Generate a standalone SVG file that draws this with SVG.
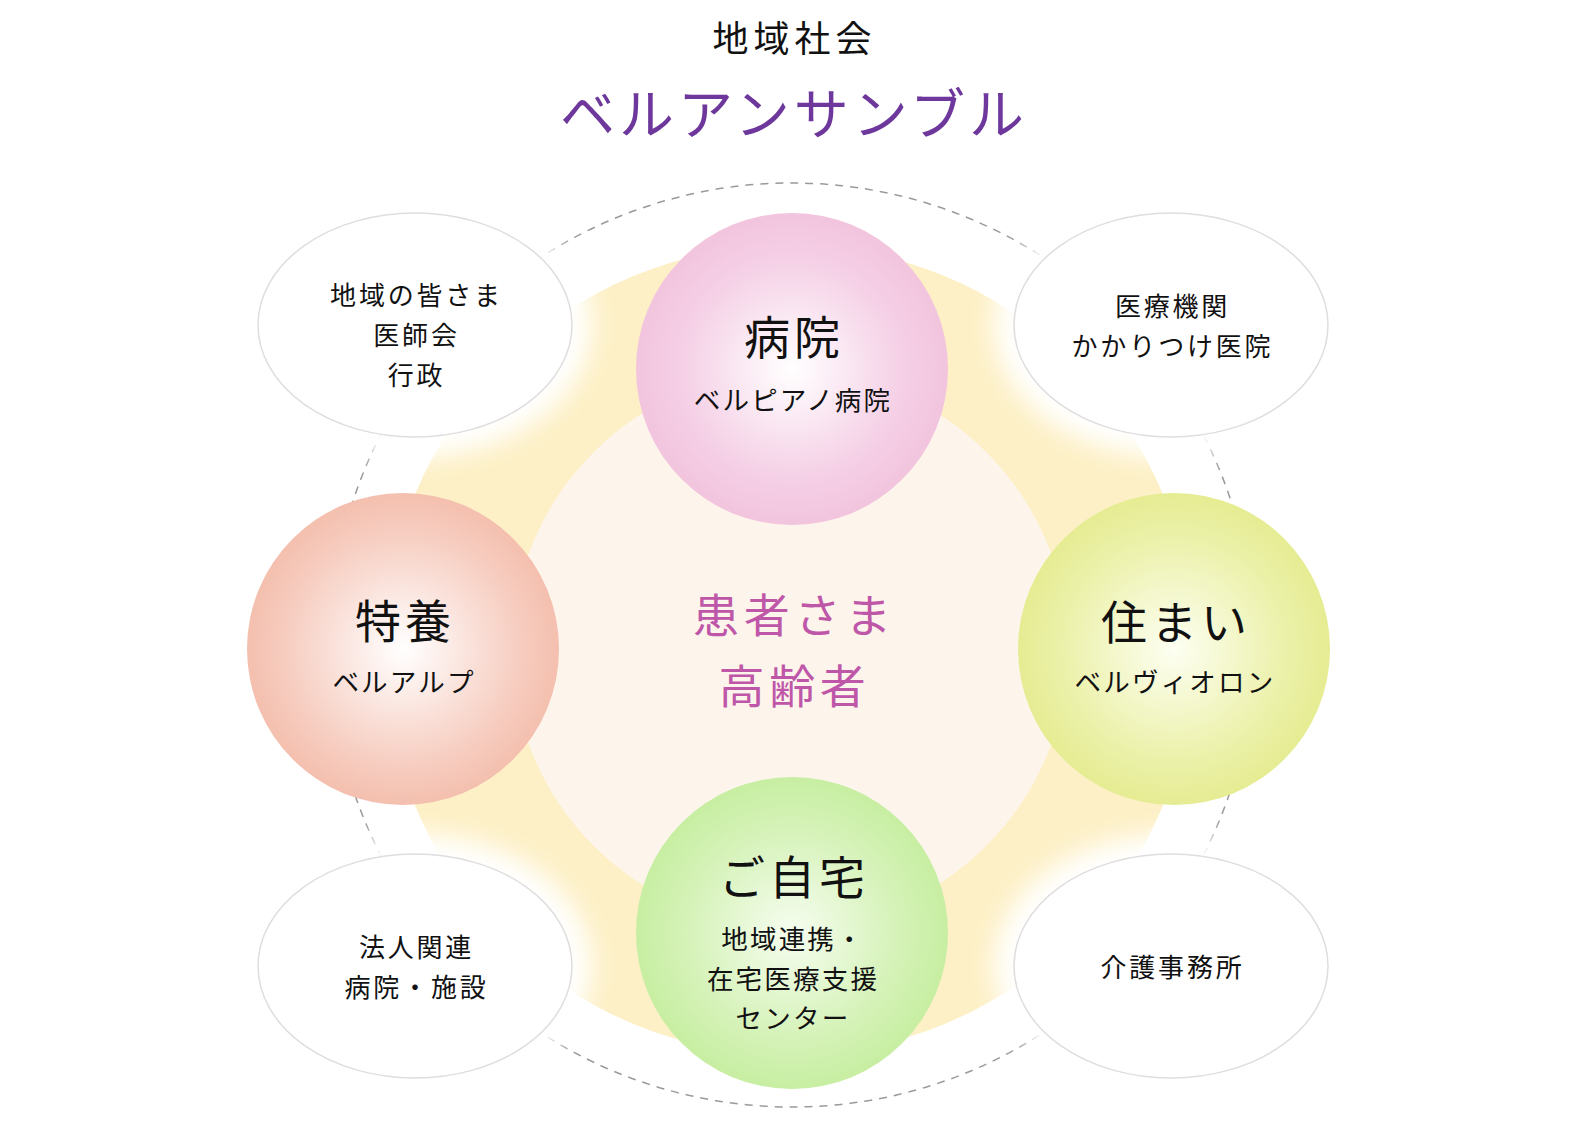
<svg xmlns="http://www.w3.org/2000/svg" width="1584" height="1131" viewBox="0 0 1584 1131">
<defs>
<style>
text{font-family:"Noto Sans CJK JP","Noto Sans",sans-serif;text-anchor:middle;fill:#111;}
.t1{font-size:36px;letter-spacing:5px;}
.t2{font-size:55px;letter-spacing:4px;fill:#6d379c;}
.big{font-size:46px;letter-spacing:4px;}
.sub{font-size:26.5px;letter-spacing:2.2px;}
.ell{font-size:26px;letter-spacing:2.8px;}
.ctr{font-size:46px;letter-spacing:4.7px;fill:#bf57a9;}
.oval{fill:#fff;stroke:#dedede;stroke-width:1.5;}
.glow{fill:#fff;filter:url(#blur);}
</style>
<filter id="blur" x="-30%" y="-30%" width="160%" height="160%"><feGaussianBlur stdDeviation="13"/></filter>
<radialGradient id="gPink"><stop offset="0" stop-color="#ffffff"/><stop offset="0.7" stop-color="#f5d0e6"/><stop offset="1" stop-color="#f2c4de"/></radialGradient>
<radialGradient id="gSalmon"><stop offset="0" stop-color="#ffffff"/><stop offset="0.7" stop-color="#f7d0c4"/><stop offset="1" stop-color="#f4bfae"/></radialGradient>
<radialGradient id="gYellow"><stop offset="0" stop-color="#fdfff2"/><stop offset="0.7" stop-color="#ecf1ab"/><stop offset="1" stop-color="#e5ec92"/></radialGradient>
<radialGradient id="gGreen"><stop offset="0" stop-color="#f6fdf0"/><stop offset="0.7" stop-color="#d4f2b6"/><stop offset="1" stop-color="#c7eea2"/></radialGradient>
</defs>
<rect width="1584" height="1131" fill="#fff"/>

<g id="connectors">
<circle cx="792" cy="645" r="462" fill="none" stroke="#9a9a9a" stroke-width="1.5" stroke-dasharray="8 7"/>
</g>

<g id="ring">
<circle cx="789" cy="650" r="405" fill="#fdf0c6"/>
<circle cx="790" cy="649" r="278" fill="#fdf5ec"/>
</g>

<g id="glows">
<ellipse class="glow" cx="415" cy="325" rx="177" ry="132"/>
<ellipse class="glow" cx="1171" cy="325" rx="177" ry="132"/>
<ellipse class="glow" cx="415" cy="966" rx="177" ry="132"/>
<ellipse class="glow" cx="1171" cy="966" rx="177" ry="132"/>
</g>

<g id="title">
<text class="t1" x="794.5" y="52">地域社会</text>
<text class="t2" x="794" y="134">ベルアンサンブル</text>
</g>

<g id="center">
<text class="ctr" x="794.5" y="632">患者さま</text>
<text class="ctr" x="794.5" y="703">高齢者</text>
</g>

<g id="oval-tl">
<ellipse class="oval" cx="415" cy="325" rx="157" ry="112"/>
<text class="ell" x="416.5" y="305">地域の皆さま</text>
<text class="ell" x="416.5" y="345">医師会</text>
<text class="ell" x="416.5" y="385">行政</text>
</g>

<g id="oval-tr">
<ellipse class="oval" cx="1171" cy="325" rx="157" ry="112"/>
<text class="ell" x="1172.5" y="316">医療機関</text>
<text class="ell" x="1172.5" y="356">かかりつけ医院</text>
</g>

<g id="oval-bl">
<ellipse class="oval" cx="415" cy="966" rx="157" ry="112"/>
<text class="ell" x="416.5" y="957">法人関連</text>
<text class="ell" x="416.5" y="997">病院・施設</text>
</g>

<g id="oval-br">
<ellipse class="oval" cx="1171" cy="966" rx="157" ry="112"/>
<text class="ell" x="1172.5" y="977">介護事務所</text>
</g>

<g id="node-hospital">
<circle cx="792" cy="369" r="156" fill="url(#gPink)"/>
<text class="big" x="794" y="354">病院</text>
<text class="sub" x="793" y="410">ベルピアノ病院</text>
</g>

<g id="node-tokuyo">
<circle cx="403" cy="649" r="156" fill="url(#gSalmon)"/>
<text class="big" x="405" y="638">特養</text>
<text class="sub" x="404" y="692">ベルアルプ</text>
</g>

<g id="node-sumai">
<circle cx="1174" cy="649" r="156" fill="url(#gYellow)"/>
<text class="big" x="1176" y="639">住まい</text>
<text class="sub" x="1175" y="692">ベルヴィオロン</text>
</g>

<g id="node-home">
<circle cx="792" cy="933" r="156" fill="url(#gGreen)"/>
<text class="big" x="794" y="894">ご自宅</text>
<text class="sub" x="793" y="949">地域連携・</text>
<text class="sub" x="793" y="989">在宅医療支援</text>
<text class="sub" x="793" y="1028">センター</text>
</g>
</svg>
